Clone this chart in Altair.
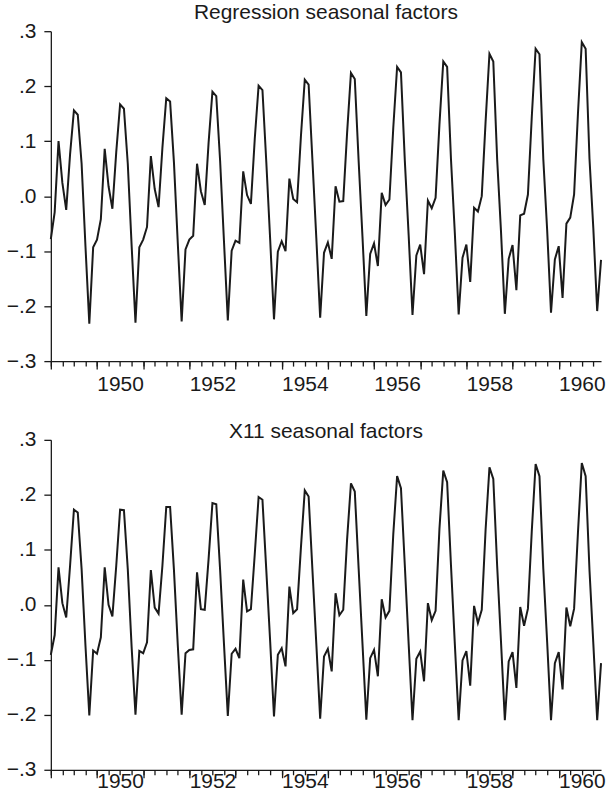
import altair as alt
import pandas as pd

# Monthly seasonal factors, January 1949 - December 1960
START_YEAR = 1949

regression = [
    -0.078, -0.029, 0.100, 0.024, -0.025, 0.076, 0.156, 0.148, 0.059, -0.091, -0.232, -0.093,  # 1949
    -0.079, -0.042, 0.086, 0.018, -0.023, 0.080, 0.167, 0.159, 0.059, -0.090, -0.230, -0.093,  # 1950
    -0.079, -0.056, 0.073, 0.013, -0.020, 0.088, 0.178, 0.172, 0.061, -0.086, -0.228, -0.097,  # 1951
    -0.079, -0.072, 0.059, 0.009, -0.016, 0.097, 0.190, 0.182, 0.064, -0.082, -0.226, -0.099,  # 1952
    -0.081, -0.085, 0.045, 0.002, -0.014, 0.104, 0.201, 0.193, 0.062, -0.078, -0.224, -0.101,  # 1953
    -0.082, -0.100, 0.032, -0.005, -0.011, 0.109, 0.212, 0.203, 0.064, -0.076, -0.221, -0.103,  # 1954
    -0.084, -0.114, 0.018, -0.010, -0.009, 0.115, 0.224, 0.213, 0.064, -0.074, -0.218, -0.105,  # 1955
    -0.086, -0.127, 0.006, -0.016, -0.006, 0.124, 0.235, 0.225, 0.065, -0.071, -0.216, -0.108,  # 1956
    -0.088, -0.142, -0.008, -0.022, -0.003, 0.130, 0.245, 0.235, 0.067, -0.067, -0.215, -0.112,  # 1957
    -0.088, -0.156, -0.021, -0.028, 0.000, 0.136, 0.259, 0.245, 0.067, -0.064, -0.214, -0.114,  # 1958
    -0.089, -0.171, -0.035, -0.032, 0.003, 0.144, 0.268, 0.258, 0.067, -0.062, -0.212, -0.115,  # 1959
    -0.091, -0.185, -0.050, -0.039, 0.003, 0.150, 0.280, 0.268, 0.068, -0.059, -0.209, -0.116,  # 1960
]

x11 = [
    -0.091, -0.055, 0.068, 0.003, -0.023, 0.071, 0.173, 0.168, 0.065, -0.074, -0.201, -0.083,  # 1949
    -0.089, -0.059, 0.068, 0.000, -0.021, 0.071, 0.173, 0.172, 0.065, -0.077, -0.200, -0.084,  # 1950
    -0.088, -0.068, 0.063, -0.005, -0.016, 0.071, 0.178, 0.178, 0.063, -0.074, -0.200, -0.088,  # 1951
    -0.082, -0.081, 0.059, -0.008, -0.009, 0.083, 0.185, 0.183, 0.063, -0.071, -0.202, -0.089,  # 1952
    -0.080, -0.097, 0.046, -0.012, -0.008, 0.092, 0.196, 0.191, 0.063, -0.066, -0.203, -0.091,  # 1953
    -0.079, -0.112, 0.033, -0.015, -0.008, 0.104, 0.208, 0.197, 0.062, -0.071, -0.207, -0.094,  # 1954
    -0.080, -0.121, 0.021, -0.019, -0.009, 0.119, 0.221, 0.206, 0.066, -0.071, -0.209, -0.097,  # 1955
    -0.082, -0.130, 0.010, -0.023, -0.011, 0.128, 0.234, 0.212, 0.072, -0.071, -0.210, -0.098,  # 1956
    -0.085, -0.139, 0.003, -0.028, -0.011, 0.138, 0.244, 0.223, 0.072, -0.071, -0.210, -0.101,  # 1957
    -0.084, -0.147, -0.002, -0.033, -0.009, 0.137, 0.250, 0.229, 0.071, -0.067, -0.210, -0.103,  # 1958
    -0.086, -0.151, -0.004, -0.038, -0.007, 0.134, 0.256, 0.234, 0.065, -0.068, -0.210, -0.106,  # 1959
    -0.086, -0.154, -0.005, -0.039, -0.007, 0.131, 0.258, 0.234, 0.063, -0.071, -0.210, -0.106,  # 1960
]

# Axis tick positions (in fractional years)
year_ticks = list(range(1949, 1961))
quarter_ticks = [1949 + q / 4 for q in range(48)]
label_years = [1950, 1952, 1954, 1956, 1958, 1960]
y_ticks = [-0.3, -0.2, -0.1, 0.0, 0.1, 0.2, 0.3]

FONT = "Liberation Sans"
INK = "#1a1a1a"
FS = 21

time = [START_YEAR + i / 12 for i in range(len(regression))]
label_pos = [y + 0.5 for y in label_years]

x_scale = alt.Scale(domain=[time[0], time[-1]], nice=False, zero=False)
y_scale = alt.Scale(domain=[-0.3, 0.3], nice=False, zero=False)

y_label_expr = "replace(format(datum.value, '.1f'), '0.', '.')"


def panel(values, title, title_offset, label_pad):
    df = pd.DataFrame({"t": time, "v": values})
    base = alt.Chart(df)

    line = base.mark_line(color=INK, strokeWidth=2.0, strokeJoin="miter").encode(
        x=alt.X("t:Q", scale=x_scale, axis=alt.Axis(
            orient="bottom", values=label_pos, labelExpr="floor(datum.value)",
            ticks=False, grid=False, title=None, labelPadding=label_pad,
            domainColor=INK, domainWidth=1.3, labelFontSize=FS, labelFont=FONT,
            labelColor=INK, labelFlush=False, labelOverlap=False)),
        y=alt.Y("v:Q", scale=y_scale, axis=alt.Axis(
            orient="left", values=y_ticks, labelExpr=y_label_expr, title=None,
            grid=False, tickSize=7, tickColor=INK, tickWidth=1.3, labelPadding=8,
            domainColor=INK, domainWidth=1.3, labelFontSize=FS, labelFont=FONT,
            labelColor=INK, labelFlush=False, labelOverlap=False)),
    )

    # yearly ticks (long)
    major = base.mark_point(opacity=0).encode(
        x=alt.X("t:Q", scale=x_scale, axis=alt.Axis(
            orient="bottom", values=year_ticks, labels=False, domain=False,
            grid=False, title=None, tickSize=8, tickColor=INK, tickWidth=1.3)),
        y=alt.Y("v:Q", scale=y_scale, axis=None),
    )

    # quarterly ticks (short)
    minor = base.mark_point(opacity=0).encode(
        x=alt.X("t:Q", scale=x_scale, axis=alt.Axis(
            orient="bottom", values=quarter_ticks, labels=False, domain=False,
            grid=False, title=None, tickSize=5, tickColor=INK, tickWidth=1.3)),
        y=alt.Y("v:Q", scale=y_scale, axis=None),
    )

    return alt.layer(line, major, minor).resolve_axis(
        x="independent", y="independent"
    ).properties(
        width=552, height=331,
        title=alt.TitleParams(
            title, font=FONT, fontSize=FS, fontWeight="normal", color=INK,
            anchor="middle", baseline="alphabetic", offset=title_offset),
    )


top = panel(regression, "Regression seasonal factors", -20, 12)
bottom = panel(x11, "X11 seasonal factors", -30, 1)

chart = alt.vconcat(top, bottom, spacing=79, bounds="flush").properties(
    padding={"left": 6, "top": 1, "right": 5, "bottom": 0},
    background="white",
).configure_view(stroke=None)

chart.save("out.html", embed_options={"renderer": "svg", "actions": False})
